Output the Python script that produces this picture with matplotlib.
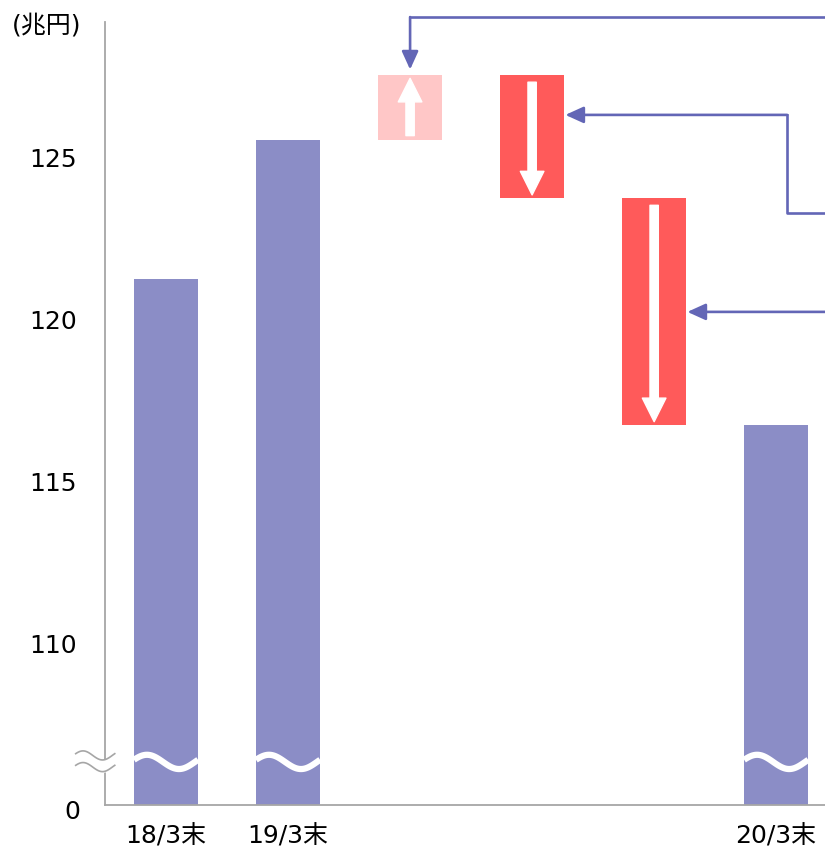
import numpy as np
import matplotlib
matplotlib.use('Agg')
import matplotlib.pyplot as plt

plt.rcParams['font.family'] = ['DejaVu Sans', 'Noto Sans CJK JP']

# ---- DATA ----
categories = ['18/3末', '19/3末', '', '', '', '20/3末']
totals = {0: 121.2, 1: 125.5, 5: 116.7}          # stock bars (兆円)
steps = [(125.5, 127.5), (127.5, 123.7), (123.7, 116.7)]   # waterfall (start, end)
step_colors = ['#FFC7C7', '#FF5A5A', '#FF5A5A']
yticks = [110, 115, 120, 125]

# ---- STYLE ----
BAR = '#8B8DC6'
LINK = '#6366B6'
AXC = '#A6A6A6'
W = 0.525
Y0 = 104.97          # where "0" sits on the broken axis
BRK = 106.3          # break position
FS = 18

fig = plt.figure(figsize=(8.25, 8.54), dpi=100)
ax = fig.add_axes([105 / 825, 1 - 806 / 854, 1 - 105 / 825, (806 - 20) / 854])

# stock bars
for i, v in totals.items():
    ax.bar(i, v - Y0, bottom=Y0, width=W, color=BAR, zorder=2)
    # white wave = broken bar
    t = np.linspace(0, 1, 60)
    ax.plot(i - W / 2 + t * W, BRK + 0.22 * np.sin(2 * np.pi * t + 0.3),
            color='white', lw=4.5, zorder=3, solid_capstyle='butt')

# waterfall boxes with white arrows
for k, ((a, b), c) in enumerate(zip(steps, step_colors)):
    i = 2 + k
    ax.bar(i, b - a, bottom=a, width=W, color=c, zorder=2)
    if b > a:
        xy, xyt = (i, b - 0.1), (i, a + 0.13)
    else:
        xy, xyt = (i, b + 0.1), (i, a - 0.22)
    ax.annotate('', xy=xy, xytext=xyt,
                arrowprops=dict(width=6, headwidth=17, headlength=17,
                                color='white', shrink=0), zorder=4)

# connector lines coming from the right (explanation boxes lie off-figure)
XR = 5.8
links = [
    ([(XR, 129.29), (2.0, 129.29)], (2.0, steps[0][1] + 0.17)),
    ([(XR, 123.24), (5.09, 123.24), (5.09, 126.27)], (3 + W / 2 + 0.01, 126.27)),
    ([(XR, 120.19)], (4 + W / 2 + 0.01, 120.19)),
]
for pts, tip in links:
    xs, ys = zip(*pts)
    ax.plot(xs, ys, color=LINK, lw=1.9, clip_on=False, zorder=5)
    ax.annotate('', xy=tip, xytext=pts[-1], annotation_clip=False,
                arrowprops=dict(arrowstyle='-|>,head_length=0.55,head_width=0.25',
                                mutation_scale=20, color=LINK, lw=1.9,
                                shrinkA=0, shrinkB=0), zorder=5)

ax.set_xlim(-0.5, 5.40)
ax.set_ylim(Y0, 129.23)
ax.set_yticks(yticks)
ax.set_yticklabels([str(v) for v in yticks], fontsize=FS)
ax.set_xticks(range(len(categories)))
ax.set_xticklabels(categories, fontsize=FS)
ax.tick_params(axis='both', length=0)
ax.tick_params(axis='y', pad=20)
ax.tick_params(axis='x', pad=13)
ax.text(-0.7, Y0 - 0.2, '0', fontsize=FS, ha='right', va='center')

for s in ['top', 'right']:
    ax.spines[s].set_visible(False)
for s in ['left', 'bottom']:
    ax.spines[s].set_color(AXC)
    ax.spines[s].set_linewidth(1.3)
ax.spines['left'].set_bounds(Y0, 129.15)

# axis break mark
t = np.linspace(0, 1, 50)
xw = -0.74 + t * 0.32
w1 = BRK + 0.2 + 0.14 * np.sin(2 * np.pi * t + 0.4)
w2 = BRK - 0.16 + 0.14 * np.sin(2 * np.pi * t + 0.4)
ax.fill_between(xw, w2, w1, color='white', clip_on=False, zorder=6)
ax.plot(xw, w1, color=AXC, lw=1.2, clip_on=False, zorder=7)
ax.plot(xw, w2, color=AXC, lw=1.2, clip_on=False, zorder=7)

fig.text(12 / 825, 1 - 25 / 854, '(兆円)', fontsize=FS, ha='left', va='center')

fig.savefig('out.png', dpi=100)
